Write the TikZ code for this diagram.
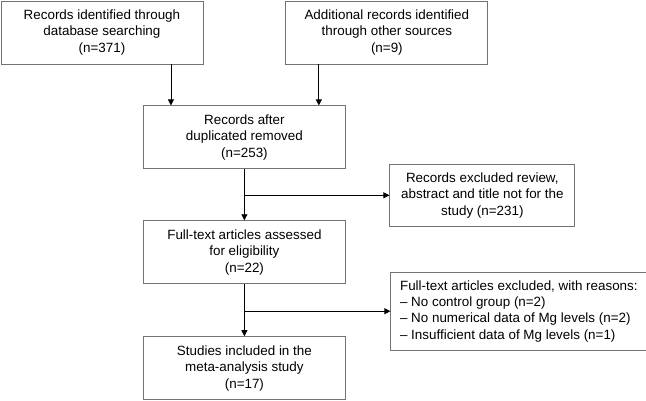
\documentclass[tikz,border=0pt]{standalone}
\usepackage{fontspec}
\setmainfont{Liberation Sans}
\usetikzlibrary{shapes, arrows.meta, positioning, calc}

\tikzset{
	box/.style={draw=black!55, line width=0.9pt, minimum width=202pt, minimum height=63pt,
		align=center, inner sep=4pt, font=\fontsize{13.4}{16.4}\selectfont},
	arr/.style={-{Triangle[length=6pt,width=6pt]}, line width=0.8pt}
}

\begin{document}
\begin{tikzpicture}[node distance=42pt and 82pt]
	\useasboundingbox (0,0) rectangle (646pt,-400pt);
	\node[box, anchor=north west] (db) at (0.5pt,-0.5pt) {Records identified through\\database searching\\(n=371)};
	\node[box, right =of db] (other) {Additional records identified\\through other sources\\(n=9)};
	\coordinate (mid) at ($(db.south east)!.5!(other.south west)$);
	\node[box, below =41pt of mid] (dup) {Records after\\duplicated removed\\(n=253)};
	\node[box, below =51pt of dup] (full) {Full-text articles assessed\\for eligibility\\(n=22)};
	\node[box, below =52pt of full] (incl) {Studies included in the\\meta-analysis study\\(n=17)};
	% side boxes
	\coordinate[below =26pt of dup] (b1);
	\coordinate[below =27pt of full] (b2);
	\node[box, minimum width=185pt, minimum height=62pt, right =145pt of b1] (excl1)
		{Records excluded review,\\abstract and title not for the\\study (n=231)};
	\node[box, minimum width=256pt, minimum height=78pt, align=left, right =146pt of b2] (excl2)
		{Full-text articles excluded, with reasons:\\
		 -- No control group (n=2)\\
		 -- No numerical data of Mg levels (n=2)\\
		 -- Insufficient data of Mg levels (n=1)};
	% connectors
	\draw[arr] ([xshift=28pt]dup.north west |- db.south) -- ([xshift=28pt]dup.north west);
	\draw[arr] ([xshift=-27pt]dup.north east |- other.south) -- ([xshift=-27pt]dup.north east);
	\foreach \from/\to in {dup/full, full/incl, b1/excl1, b2/excl2}
		\draw[arr] (\from) -- (\to);
\end{tikzpicture}
\end{document}
